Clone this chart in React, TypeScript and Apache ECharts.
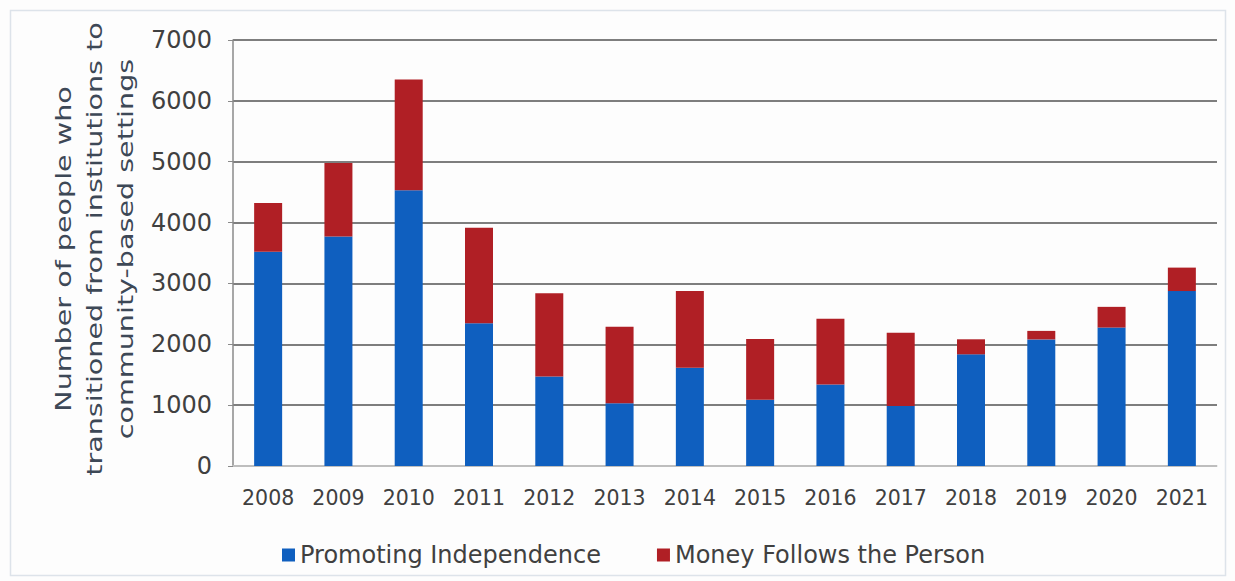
import React, { useEffect, useRef } from "react";
import * as echarts from "echarts";

const years = ["2008", "2009", "2010", "2011", "2012", "2013", "2014", "2015", "2016", "2017", "2018", "2019", "2020", "2021"];
const promotingIndependence = [3520, 3770, 4530, 2345, 1470, 1030, 1615, 1090, 1340, 985, 1835, 2080, 2275, 2875];
const moneyFollowsPerson = [800, 1210, 1820, 1570, 1370, 1260, 1260, 995, 1080, 1205, 247, 140, 340, 385];
const seriesNames = ["Promoting Independence", "Money Follows the Person"];
const yTitle = "Number of people who\ntransitioned from institutions to\ncommunity-based settings";

const FONT = "DejaVu Sans";

export default function App() {
  const ref = useRef<HTMLDivElement>(null);
  useEffect(() => {
    if (!ref.current) return;
    const chart = echarts.init(ref.current, null, { renderer: "svg" });
    chart.setOption({
      animation: false,
      backgroundColor: "#fdfdfd",
      textStyle: { fontFamily: FONT },
      graphic: [
        {
          type: "rect",
          shape: { x: 10.5, y: 10.5, width: 1215, height: 565 },
          style: { fill: "none", stroke: "#dde3ea", lineWidth: 1.5 },
          silent: true,
        },
        {
          type: "text",
          x: 94,
          y: 249,
          rotation: Math.PI / 2,
          scaleX: 1.3,
          silent: true,
          style: {
            text: yTitle,
            font: `22px "${FONT}"`,
            fontSize: 22,
            fontFamily: FONT,
            lineHeight: 31,
            fill: "#3d4856",
            align: "center",
            verticalAlign: "middle",
          },
        },
      ],
      legend: {
        left: 277,
        top: 538,
        itemWidth: 13,
        itemHeight: 13,
        itemGap: 56,
        icon: "rect",
        textStyle: { fontSize: 24, color: "#404040", fontFamily: FONT },
        data: seriesNames,
      },
      grid: { left: 233, right: 18, top: 40, bottom: 115 },
      xAxis: {
        type: "category",
        data: years,
        axisLine: { show: true, lineStyle: { color: "#d4d4d4", width: 1.5 } },
        axisTick: { show: false },
        axisLabel: { fontSize: 20.5, color: "#404040", margin: 21, fontFamily: FONT },
      },
      yAxis: {
        type: "value",
        min: 0,
        max: 7000,
        interval: 1000,
        axisLine: { show: true, lineStyle: { color: "#8a8a8a", width: 1.5 } },
        axisTick: { show: true, length: 5, lineStyle: { color: "#8a8a8a" } },
        axisLabel: {
          fontSize: 24,
          color: "#404040",
          margin: 21,
          fontFamily: FONT,
          formatter: (v: number) => String(v),
        },
        splitLine: { show: true, lineStyle: { color: "#7e7e7e", width: 2 } },
      },
      series: [
        {
          name: seriesNames[0],
          type: "bar",
          stack: "total",
          data: promotingIndependence,
          barWidth: 28,
          itemStyle: { color: "#0f5fbf" },
        },
        {
          name: seriesNames[1],
          type: "bar",
          stack: "total",
          data: moneyFollowsPerson,
          barWidth: 28,
          itemStyle: { color: "#b01f25" },
        },
      ],
    });
    return () => chart.dispose();
  }, []);
  return (
    <div
      ref={ref}
      style={{ position: "fixed", left: 0, top: 0, width: 1235, height: 581 }}
    />
  );
}
